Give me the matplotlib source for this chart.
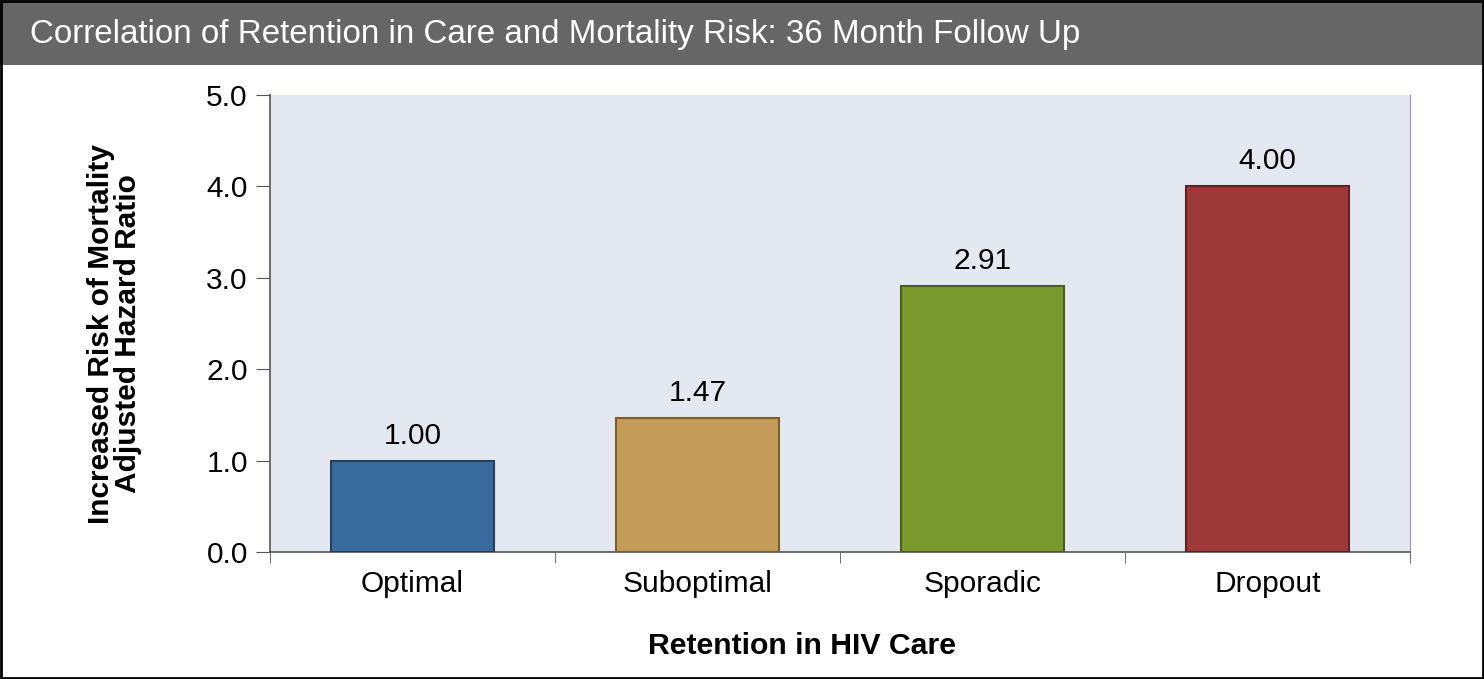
import matplotlib.pyplot as plt
from matplotlib.patches import Rectangle

categories = ["Optimal", "Suboptimal", "Sporadic", "Dropout"]
hazard_ratio = [1.00, 1.47, 2.91, 4.00]
bar_colors = ["#3A6B9F", "#C49C5A", "#7A9A30", "#9E393A"]
edge_colors = ["#23405F", "#7A5F30", "#4A5E1C", "#5E2122"]
yticks = [0.0, 1.0, 2.0, 3.0, 4.0, 5.0]

plt.rcParams['font.family'] = ['Liberation Sans', 'DejaVu Sans']

W, H = 1484, 679
fig = plt.figure(figsize=(W / 100, H / 100), dpi=100)

# title band + outer frame
fig.patches.append(Rectangle((0, 1 - 65 / H), 1, 65 / H, transform=fig.transFigure,
                             facecolor="#666666", edgecolor="none", zorder=0))
fig.patches.append(Rectangle((0.001, 0.002), 0.998, 0.996, transform=fig.transFigure,
                             facecolor="none", edgecolor="black", linewidth=2, zorder=5))
fig.text(30 / W, 1 - 35 / H, "Correlation of Retention in Care and Mortality Risk: 36 Month Follow Up",
         color="white", fontsize=23.9, va="center", ha="left")

ax = fig.add_axes([270 / W, 1 - 552 / H, (1410 - 270) / W, (552 - 95) / H])
ax.set_facecolor("#E4E8F0")

x = range(len(categories))
bars = ax.bar(x, hazard_ratio, width=0.57, color=bar_colors, edgecolor=edge_colors,
              linewidth=1.5, zorder=3)
for xi, v in zip(x, hazard_ratio):
    ax.text(xi, v + 0.12, f"{v:.2f}", ha="center", va="bottom", fontsize=21.5)

ax.set_xlim(-0.5, len(categories) - 0.5)
ax.set_ylim(0, 5)
ax.set_yticks(yticks)
ax.set_yticklabels([f"{t:.1f}" for t in yticks], fontsize=21.5)
ax.set_xticks(list(x))
ax.set_xticklabels(categories, fontsize=21.5)
ax.tick_params(axis="x", length=0, pad=13)
ax.set_xticks([i - 0.5 for i in range(len(categories) + 1)], minor=True)
ax.tick_params(axis="x", which="minor", length=8, color="#555555", direction="out")
ax.tick_params(axis="y", length=10, color="#555555", direction="out", pad=6)

for s in ["left", "bottom"]:
    ax.spines[s].set_color("#555555")
    ax.spines[s].set_linewidth(1.2)
ax.spines["right"].set_color("#999999")
ax.spines["top"].set_visible(False)

ax.set_ylabel("Increased Risk of Mortality\nAdjusted Hazard Ratio", fontsize=21.5,
              fontweight="bold", linespacing=0.95)
ax.yaxis.set_label_coords(-0.112, 0.478)
ax.set_xlabel("Retention in HIV Care", fontsize=21.8, fontweight="bold")
ax.xaxis.set_label_coords(0.4667, -0.176)

fig.savefig("out.png", dpi=100)
